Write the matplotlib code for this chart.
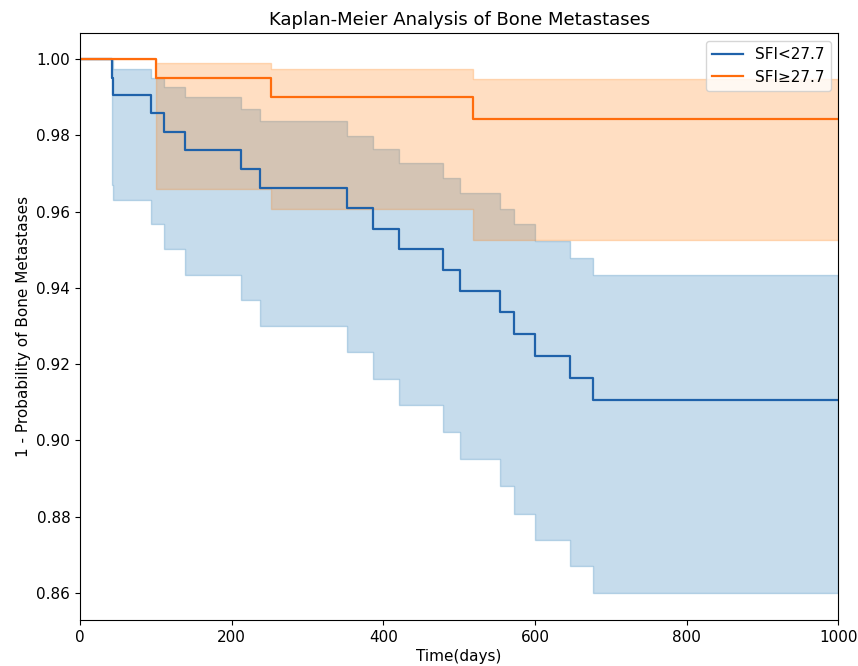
import matplotlib
matplotlib.use("Agg")
import matplotlib.pyplot as plt

# ---- data ----
blue_label = "SFI<27.7"
blue_t = [0, 41.7, 44, 93.6, 111, 138.4, 212.5, 238, 351.5, 386, 421, 478.5, 501, 554.5, 572.5, 600.5, 646, 676.5, 1000]
blue_s = [1.0, 0.9952, 0.9906, 0.9858, 0.9809, 0.9761, 0.9713, 0.9661, 0.9609, 0.9555, 0.9501, 0.9447,
          0.9393, 0.9336, 0.9278, 0.9221, 0.9164, 0.9107, 0.9107]
blue_hi = [1.0, 0.9997, 0.9974, 0.9951, 0.9926, 0.9900, 0.9869, 0.9838, 0.9799, 0.9765, 0.9729, 0.9689,
           0.9648, 0.9608, 0.9567, 0.9523, 0.9479, 0.9435, 0.9435]
blue_lo = [1.0, 0.9670, 0.9631, 0.9567, 0.9503, 0.9434, 0.9368, 0.9299, 0.9231, 0.9160, 0.9092, 0.9023,
           0.8951, 0.8880, 0.8808, 0.8740, 0.8670, 0.8600, 0.8600]

orange_label = "SFI\u226527.7"
orange_t = [0, 100.5, 251.5, 518, 1000]
orange_s = [1.0, 0.9951, 0.9900, 0.9843, 0.9843]
orange_hi = [1.0, 0.9991, 0.9974, 0.9948, 0.9948]
orange_lo = [1.0, 0.9659, 0.9607, 0.9526, 0.9526]

title = "Kaplan-Meier Analysis of Bone Metastases"
xlabel = "Time(days)"
ylabel = "1 - Probability of Bone Metastases"

fig = plt.figure(figsize=(8.58, 6.66), dpi=100)
ax = fig.add_axes([80 / 858, 46 / 666, (838.3 - 80) / 858, (620 - 33.3) / 666])

series = [
    (blue_t, blue_s, blue_lo, blue_hi, "#1f62aa", "#1f77b4", blue_label),
    (orange_t, orange_s, orange_lo, orange_hi, "#ff6c0c", "#ff7f0e", orange_label),
]
for t, s, lo, hi, lc, fc, lab in series:
    ax.fill_between(t, lo, hi, step="post", color=fc, alpha=0.25, linewidth=1.0)
for t, s, lo, hi, lc, fc, lab in series:
    ax.plot(t, s, drawstyle="steps-post", color=lc, linewidth=1.6, label=lab)

ax.set_xlim(0, 1000)
ax.set_ylim(0.8529, 1.0068)
ax.set_yticks([0.86, 0.88, 0.90, 0.92, 0.94, 0.96, 0.98, 1.00])
ax.set_xticks([0, 200, 400, 600, 800, 1000])
ax.tick_params(labelsize=11)
ax.set_title(title, fontsize=13)
ax.set_xlabel(xlabel, fontsize=11, labelpad=3)
ax.set_ylabel(ylabel, fontsize=11)
ax.legend(loc="upper right", fontsize=11)

fig.savefig("out.png", dpi=100)
